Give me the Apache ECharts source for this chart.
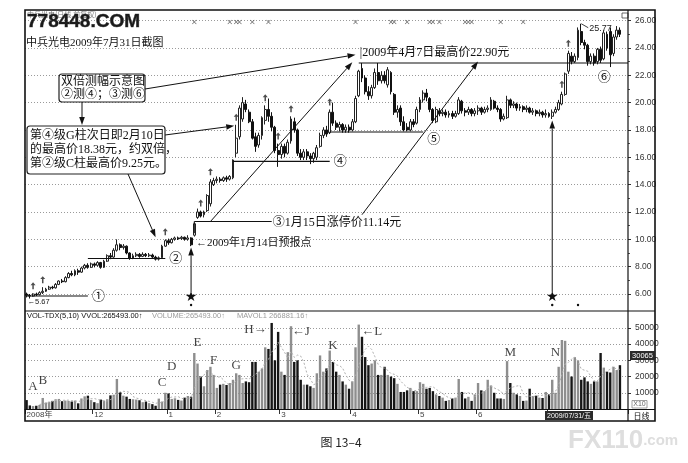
<!DOCTYPE html>
<html><head><meta charset="utf-8">
<script src="https://cdn.jsdelivr.net/npm/echarts/dist/echarts.min.js"></script>
<style>html,body{margin:0;padding:0;background:#fff}#c{width:688px;height:463px}</style>
</head><body><div id="c"></div>
<script>
// ---------------- data ----------------
const monthLabels = ['2008年','12','1','2','3','4','5','6','7'];
const monthDays   = [21,23,15,20,22,21,18,22,23];

const opens = [6.0,5.9,5.85,6.0,5.95,6.1,6.2,6.35,6.5,6.45,
6.7,6.95,6.9,7.2,7.5,7.4,7.7,7.6,7.9,8.1,
7.95,8.2,8.1,8.3,7.95,8.4,8.8,8.7,9.2,9.6,
9.4,9.5,9.0,8.6,8.8,8.9,8.75,8.9,8.8,8.85,
8.7,8.55,8.65,9.5,9.9,9.75,10.0,10.1,10.05,10.15,
10.0,10.1,10.3,11.6,12.0,11.8,12.1,12.6,14.0,14.3,
14.4,14.3,14.5,14.4,14.5,16.3,17.5,18.8,19.9,19.3,
18.6,17.5,16.9,17.6,18.7,19.5,19.0,18.2,16.5,16.2,
16.8,16.3,17.2,18.6,18.0,16.3,16.0,16.4,16.1,15.9,
16.0,16.8,17.6,18.0,17.8,19.3,18.5,18.2,18.4,18.0,
18.2,18.0,18.6,20.5,22.5,21.8,20.8,20.5,21.1,22.2,
21.6,22.0,21.3,22.2,20.6,19.3,19.6,18.6,18.2,18.0,
18.6,18.5,19.5,20.2,20.7,20.3,19.5,18.6,19.4,19.2,
19.3,19.1,19.2,19.0,19.2,20.1,19.4,19.3,19.5,19.2,
19.4,19.6,19.3,19.5,19.5,20.1,19.6,19.5,18.8,18.9,
20.2,19.8,19.9,19.6,19.7,19.5,19.6,19.3,19.4,19.2,
19.3,19.1,19.2,19.0,19.3,19.5,19.9,20.6,22.3,23.4,
23.0,23.3,25.2,24.4,24.2,23.0,23.4,23.0,23.9,23.2,
25.0,25.2,23.6,24.8,25.3];
const closes = [5.9,5.85,6.0,5.95,6.1,6.2,6.35,6.5,6.45,6.7,
6.95,6.9,7.2,7.5,7.4,7.7,7.6,7.9,8.1,7.95,
8.2,8.1,8.3,7.95,8.4,8.8,8.7,9.2,9.6,9.4,
9.5,9.0,8.6,8.8,8.9,8.75,8.9,8.8,8.85,8.7,
8.55,8.65,9.5,9.9,9.75,10.0,10.1,10.05,10.15,10.0,
10.1,9.6,11.14,12.0,11.7,12.0,13.2,14.2,14.3,14.4,
14.3,14.5,14.4,14.6,15.8,17.4,19.6,20.0,19.5,18.6,
17.4,16.8,17.6,18.9,19.5,19.0,18.2,16.5,16.2,16.8,
16.3,17.1,18.8,18.0,16.3,16.0,16.4,16.1,15.9,16.3,
16.7,17.6,18.0,17.7,19.3,18.5,18.2,18.4,18.0,18.2,
18.0,18.6,20.3,22.3,21.8,20.8,20.5,21.1,22.2,21.6,
22.0,21.6,22.4,20.8,19.3,19.5,18.6,18.0,18.0,18.6,
18.4,19.5,20.2,20.7,20.4,19.5,18.7,19.5,19.2,19.3,
19.1,19.2,19.0,19.2,20.2,19.4,19.3,19.5,19.2,19.4,
19.6,19.3,19.5,19.6,20.2,19.6,19.5,18.8,19.0,20.2,
19.8,19.9,19.6,19.7,19.5,19.6,19.3,19.4,19.2,19.3,
19.1,19.2,19.0,19.3,19.5,20.0,20.6,22.1,23.6,23.0,
23.4,25.3,24.4,24.2,23.0,23.4,22.9,23.9,23.1,25.1,
24.0,23.5,24.8,25.3,25.0];
const lows = [5.75,5.67,5.8,5.85,5.9,6.0,6.15,6.3,6.35,6.4,
6.65,6.8,6.85,7.15,7.3,7.3,7.4,7.55,7.8,7.85,
7.9,7.95,8.0,7.85,7.9,8.35,8.55,8.65,9.1,9.2,
9.25,8.9,8.5,8.55,8.7,8.65,8.7,8.7,8.7,8.6,
8.45,8.45,8.6,9.45,9.6,9.7,9.9,9.95,9.95,9.9,
9.9,9.5,10.2,11.5,11.6,11.6,12.0,12.4,13.9,14.1,
14.15,14.2,14.2,14.3,14.4,16.0,17.3,18.6,19.3,18.5,
17.3,16.4,16.7,17.3,18.4,18.6,17.9,16.3,15.3,15.9,
16.0,16.2,17.0,17.8,16.1,15.8,15.8,15.8,15.5,15.6,
15.8,16.7,17.4,17.5,17.7,18.3,18.0,17.9,17.8,17.8,
17.8,17.9,18.5,20.4,21.5,20.6,20.2,20.3,21.0,21.3,
21.4,21.4,21.1,20.6,19.1,18.9,18.3,17.9,17.9,17.9,
18.2,18.4,19.3,20.0,20.1,19.3,18.5,18.5,19.0,19.0,
18.9,18.9,18.8,18.9,19.1,19.2,19.0,19.1,19.0,19.0,
19.1,19.1,19.2,19.3,19.4,19.5,19.3,18.6,18.7,18.8,
19.6,19.6,19.4,19.4,19.3,19.3,19.2,19.1,19.0,19.0,
18.9,18.9,18.9,18.8,19.2,19.4,19.8,20.5,22.1,22.8,
22.9,23.1,24.2,23.9,22.7,22.8,22.7,22.8,22.9,23.1,
23.8,22.6,23.4,24.6,24.8];
const highs = [6.1,6.0,6.05,6.1,6.2,6.5,6.45,6.6,6.6,6.8,
7.0,7.1,7.3,7.6,7.7,7.8,7.85,8.0,8.2,8.25,
8.3,8.3,8.4,8.35,8.5,8.9,9.0,9.35,10.0,9.7,
9.65,9.55,9.05,8.95,9.05,9.0,9.05,9.0,9.0,8.95,
8.8,8.75,9.6,10.0,10.05,10.1,10.2,10.2,10.25,10.2,
10.3,10.15,11.2,12.25,12.1,12.1,13.3,14.4,14.5,14.6,
14.55,14.6,14.65,14.7,15.85,18.38,19.8,20.4,20.2,19.5,
18.8,17.8,17.8,19.0,19.8,20.3,19.3,18.3,17.0,17.0,
17.0,17.3,19.0,18.9,18.1,16.6,16.6,16.6,16.3,16.4,
16.9,17.8,18.2,18.3,19.5,20.0,18.7,18.6,18.5,18.4,
18.4,18.8,20.5,22.4,22.9,22.0,21.2,21.3,22.5,22.9,
22.3,22.3,22.6,22.3,20.7,19.8,19.8,19.0,18.5,18.8,
18.8,19.7,20.4,20.9,21.0,20.4,19.6,19.7,19.6,19.5,
19.5,19.4,19.4,19.4,20.4,20.2,19.6,19.7,19.6,19.6,
19.8,19.7,19.7,19.8,20.4,20.2,19.8,19.6,19.2,20.5,
20.3,20.1,20.0,19.9,19.8,19.8,19.7,19.6,19.5,19.5,
19.4,19.5,19.3,19.5,19.7,20.2,20.8,22.2,23.8,23.7,
23.6,25.5,25.77,24.6,24.3,23.6,23.6,24.0,24.1,25.3,
25.2,25.5,25.0,25.6,25.5];
const volumes = [5500,2200,1800,2000,2500,6800,4000,4500,5000,6000,
6200,4800,5200,5000,4600,5200,3500,6500,7800,8200,
5500,4200,3600,5800,5200,6000,8400,8800,18500,10500,
8200,7600,6200,6000,5800,5400,4200,4600,3600,3000,
2000,6400,4600,10000,9600,6200,6600,5600,5200,7000,
8000,7600,34500,28000,20000,14000,24000,26000,21000,13000,
15000,15500,14800,16000,18000,22000,21000,16000,17000,16500,
29000,29000,23000,25000,38000,37000,53000,30000,47500,23000,
21000,35000,51000,29000,30000,18000,15000,15000,14000,13000,
22000,33000,23000,25000,36000,29000,23000,21000,17000,15000,
12500,17000,38000,52000,44500,32000,27000,28000,30000,21000,
21000,26000,21000,20000,19000,15500,10500,10500,11500,13000,
11000,11000,16500,15500,12500,13000,11000,9000,8000,7000,
5000,5500,6500,7000,18500,10500,6500,7500,5000,9000,
16000,11500,11000,18000,14500,10000,6500,6500,6200,29500,
16000,10000,9000,8000,5000,5200,12500,8000,8200,7000,
6800,10500,9000,18000,10000,26000,42500,42000,23000,20000,
32000,30000,18000,19500,17000,15500,17000,17000,34500,25500,
23000,22500,26000,24000,27000];

const priceTicks = [6, 26, 2];           // min, max, step of price axis
const volTicks   = [0, 60000, 10000];    // min, max, step of volume axis
const arrowMarkIdx = [2,5,43,54,57,65,74,78,82,94,166,168];
const infoMarkIdx  = [52,63,65,66,70,75,102,113,114,118,125,126,128,136,137,138,147,154];
const letterText = ['A','B','C','D','E','F','G','H→','←J','K','←L','M','N'];
const letterIdx  = [2,5,42,45,53,58,65,71,85,95,107,150,164];
const letterVol  = [13600,17300,16000,26000,40700,29600,26500,48800,47500,38900,47500,34600,34600];
// level lines: [label, fromIdx, toIdx, price]
const levelLabels = ['①','②','③','④','⑤'];
const levelFrom   = [0,19,52,64,94];
const levelTo     = [19,43,76,94,123];
const levelPrice  = [5.85,8.6,11.3,15.7,17.85];
const topPrice = 22.90, topIdx = 103;
const forecastIdx = [51, 163];

// ---------------- build ----------------
const categories = [];
monthLabels.forEach((m, k) => { for (let d = 0; d < monthDays[k]; d++) categories.push(m + '#' + d); });
categories.push('pad1', 'pad2');
const isMonthStart = (idx, val) => typeof val === 'string' && /#0$/.test(val);

const ohlc = opens.map((o, i) => [o, closes[i], lows[i], highs[i]]);
const volData = volumes.map((v, i) => ({value: v, itemStyle: {color: closes[i] >= opens[i] ? '#8e8e8e' : '#161616'}}));
const ma5 = volumes.map((v, i) => {
  if (i < 4) return '-';
  let s = 0; for (let k = i - 4; k <= i; k++) s += volumes[k];
  return Math.round(s / 5);
});

const sans = 'Liberation Sans';
const chart = echarts.init(document.getElementById('c'), null, {renderer: 'canvas'});
const option = {
  animation: false,
  backgroundColor: '#fff',
  grid: [
    {left: 25, right: 60, top: 20.6, height: 273.4},
    {left: 25, right: 60, top: 311.6, height: 97.4}
  ],
  xAxis: [
    {type: 'category', gridIndex: 0, data: categories, boundaryGap: true,
     axisLine: {show: false}, axisTick: {show: false}, axisLabel: {show: false}, splitLine: {show: false}},
    {type: 'category', gridIndex: 1, data: categories, boundaryGap: true,
     axisLine: {show: true, lineStyle: {color: '#111', width: 1.2}},
     axisTick: {show: true, interval: isMonthStart, length: 5, lineStyle: {color: '#333'}},
     axisLabel: {show: true, interval: isMonthStart, formatter: v => v.split('#')[0], align: 'left',
       margin: 2, fontSize: 8, color: '#444', fontFamily: sans + ', "Noto Sans CJK SC"'}}
  ],
  yAxis: [
    {type: 'value', gridIndex: 0, position: 'right', min: priceTicks[0], max: priceTicks[1], interval: priceTicks[2],
     axisLine: {show: false},
     axisTick: {show: true, length: 3, lineStyle: {color: '#333'}},
     minorTick: {show: true, splitNumber: 2, length: 2, lineStyle: {color: '#555'}},
     axisLabel: {formatter: v => v.toFixed(2), fontSize: 8.5, color: '#333', margin: 7, fontFamily: sans},
     splitLine: {show: true, lineStyle: {color: '#9a9a9a', type: [1, 2], width: 1}}},
    {type: 'value', gridIndex: 1, position: 'right', min: volTicks[0], max: volTicks[1], interval: volTicks[2],
     axisLine: {show: false},
     axisTick: {show: true, length: 3, lineStyle: {color: '#333'}},
     axisLabel: {showMinLabel: false, showMaxLabel: false, formatter: v => String(v), fontSize: 8.5, color: '#333', margin: 7, fontFamily: sans},
     splitLine: {show: true, showMinLine: false, showMaxLine: false, lineStyle: {color: '#9a9a9a', type: [1, 2], width: 1}}}
  ],
  series: [
    {type: 'candlestick', xAxisIndex: 0, yAxisIndex: 0, data: ohlc, barWidth: 2.4, clip: false,
     itemStyle: {color: '#ffffff', color0: '#111', borderColor: '#222', borderColor0: '#111', borderWidth: 1}},
    {type: 'scatter', xAxisIndex: 0, yAxisIndex: 0, clip: false,
     data: arrowMarkIdx.map(i => [i, highs[i] + 0.55]),
     symbol: 'path://M5,0 L10,5 L6.5,5 L6.5,12 L3.5,12 L3.5,5 L0,5 Z', symbolSize: [5, 7],
     itemStyle: {color: '#222'}},
    {type: 'scatter', xAxisIndex: 0, yAxisIndex: 0, clip: false,
     data: infoMarkIdx.map(i => [i, 25.9]),
     symbol: 'path://M0,1 L1,0 L5,4 L9,0 L10,1 L6,5 L10,9 L9,10 L5,6 L1,10 L0,9 L4,5 Z', symbolSize: 4.5,
     itemStyle: {color: '#444'}},
    {type: 'bar', xAxisIndex: 1, yAxisIndex: 1, data: volData, barWidth: 2.4},
    {type: 'line', xAxisIndex: 1, yAxisIndex: 1, data: ma5, symbol: 'none', smooth: false,
     lineStyle: {color: '#b0b0b0', type: [2, 2], width: 1}},
    {type: 'scatter', xAxisIndex: 1, yAxisIndex: 1, clip: false,
     data: letterText.map((t, k) => ({name: t, value: [letterIdx[k], letterVol[k]]})),
     symbolSize: 1, itemStyle: {color: 'rgba(0,0,0,0)'},
     label: {show: true, position: 'inside', formatter: '{b}', fontSize: 13, color: '#111',
       fontFamily: '"Liberation Serif", "DejaVu Serif", serif'}}
  ]
};
chart.setOption(option);

// ---------------- annotations ----------------
const P = (i, v, gi) => chart.convertToPixel({gridIndex: gi || 0}, [i, v]);
const g = [];
const serif = '"Liberation Serif","Noto Sans CJK SC",serif';
function txt(x, y, text, font, opt) {
  g.push({type: 'text', z: 100, x: x, y: y,
    style: Object.assign({text: text, font: font, fill: '#111', textAlign: 'left', textVerticalAlign: 'middle',
      align: 'left', verticalAlign: 'middle'}, opt || {})});
}
function ln(x1, y1, x2, y2, w, c) {
  g.push({type: 'line', z: 100, shape: {x1, y1, x2, y2}, style: {stroke: c || '#111', lineWidth: w || 1}});
}
function rect(x, y, w, h, style, r) {
  g.push({type: 'rect', z: 99, shape: {x, y, width: w, height: h, r: r || 0}, style: style});
}
function arrow(x1, y1, x2, y2, lw) {
  const a = Math.atan2(y2 - y1, x2 - x1), L = 8, W = 2.8;
  const bx = x2 - L * Math.cos(a), by = y2 - L * Math.sin(a);
  ln(x1, y1, bx, by, lw || 1);
  g.push({type: 'polygon', z: 100, shape: {points: [[x2, y2],
    [bx - W * Math.sin(a), by + W * Math.cos(a)], [bx + W * Math.sin(a), by - W * Math.cos(a)]]},
    style: {fill: '#111'}});
}

// frame
rect(25, 10, 630, 411, {fill: 'none', stroke: '#111', lineWidth: 1.6});
ln(628, 10, 628, 421, 1.2);
ln(25, 311, 655, 311, 1.2);
ln(25, 409.5, 655, 409.5, 1.2);
rect(622, 13, 6, 5, {fill: 'none', stroke: '#444', lineWidth: 0.8});

// top-left texts
txt(27, 14, '中兵光电(日线,前复权)', '7px "Noto Sans CJK SC"', {fill: '#777'});
txt(27, 22, '778448.COM', 'bold 19px "Liberation Sans"', {fill: '#1a1a1a', stroke: '#555', lineWidth: 0.6});
txt(26, 43, '中兵光电2009年7月31日截图', '11px ' + serif);

// level lines
levelLabels.forEach((lab, k) => {
  const a = P(levelFrom[k], levelPrice[k]), b = P(levelTo[k], levelPrice[k]);
  ln(a[0], a[1], b[0], b[1], 1.1);
  if (k === 2) {
    const v = P(levelFrom[k], lows[levelFrom[k]] + 0.25);
    ln(a[0], a[1], a[0], v[1], 1.1);
    txt(b[0] + 1, b[1] + 1, '③1月15日涨停价11.14元', '12px ' + serif);
  } else if (k === 4) {
    txt(b[0] + 4, b[1] + 6, lab, '13px "Noto Sans CJK SC"');
  } else {
    txt(b[0] + 4, b[1] - 1, lab, '13px "Noto Sans CJK SC"');
  }
});
// 22.90 line
const t0 = P(topIdx, topPrice);
ln(t0[0], t0[1], 628, t0[1], 1.1);
txt(t0[0] + 1, t0[1] - 10, '|2009年4月7日最高价22.90元', '12px ' + serif);
const l6 = P(179, topPrice);
txt(l6[0] - 6, l6[1] + 13, '⑥', '13px "Noto Sans CJK SC"');

// low label & high label
const lo = P(0, 5.42);
txt(lo[0] + 1, lo[1], '←5.67', '7.5px "Liberation Sans"', {fill: '#222'});
const hi = P(172, 25.77);
ln(hi[0], hi[1], hi[0] + 7, hi[1] + 4, 0.8);
txt(hi[0] + 8, hi[1] + 5, '25.77', '9px "Liberation Sans"', {fill: '#222'});

// boxes
rect(59, 74, 86, 28, {fill: '#fff', stroke: '#222', lineWidth: 1.2}, 3);
txt(61, 82, '双倍测幅示意图', '12px ' + serif);
txt(61, 95, '②测④；③测⑥', '12px ' + serif);
rect(27, 126, 138, 48, {fill: '#fff', stroke: '#222', lineWidth: 1.2}, 3);
txt(30, 136, '第④级G柱次日即2月10日', '12px ' + serif);
txt(30, 150, '的最高价18.38元，约双倍，', '12px ' + serif);
txt(30, 164, '第②级C柱最高价9.25元。', '12px ' + serif);

// arrows
const a1 = P(102, 23.5);            arrow(145, 89, a1[0], a1[1]);
const a2s = P(57, 11.3), a2e = P(101, 22.95); arrow(a2s[0], a2s[1], a2e[0], a2e[1]);
const a3s = P(104, 11.8), a3e = P(140, 23.0); arrow(a3s[0], a3s[1], a3e[0], a3e[1]);
const a4 = P(40, 10.15);            arrow(128, 174, a4[0], a4[1]);
const a5 = P(65, 18.3);             arrow(165, 135, a5[0] - 2, a5[1]);
arrow(82, 102, 82, 125);

// forecast stars
forecastIdx.forEach(i => {
  const s = P(i, 5.72), tip = P(i, lows[i] - 0.1), d = P(i, 5.2);
  arrow(s[0], s[1] - 6, tip[0], tip[1]);
  txt(s[0], s[1], '★', '14px "DejaVu Sans"', {textAlign: 'center', align: 'center'});
  g.push({type: 'circle', z: 100, shape: {cx: d[0], cy: d[1], r: 1.2}, style: {fill: '#111'}});
});
const d2 = P(171, 5.2);
g.push({type: 'circle', z: 100, shape: {cx: d2[0], cy: d2[1], r: 1.2}, style: {fill: '#111'}});
const fp = P(forecastIdx[0], 9.72);
txt(fp[0] + 5, fp[1], '←2009年1月14日预报点', '11px ' + serif);

// volume header
txt(27, 316, 'VOL-TDX(5,10) VVOL:265493.00↑', '7.5px "Liberation Sans"', {fill: '#111'});
txt(152, 316, 'VOLUME:265493.00↑', '7.5px "Liberation Sans"', {fill: '#9a9a9a'});
txt(237, 316, 'MAVOL1 266881.16↑', '7.5px "Liberation Sans"', {fill: '#9a9a9a'});

// right side boxes
rect(630, 351, 25, 9, {fill: '#2a2a2a'});
txt(642.5, 355.5, '30065', '7.5px "Liberation Sans"', {fill: '#fff', textAlign: 'center', align: 'center'});
rect(632, 400.5, 15, 7.5, {fill: '#fff', stroke: '#888', lineWidth: 0.8});
txt(639.5, 404.3, 'X10', '7px "Liberation Sans"', {fill: '#666', textAlign: 'center', align: 'center'});
txt(641.5, 415.5, '日线', '8px "Noto Sans CJK SC"', {textAlign: 'center', align: 'center'});
rect(545, 411, 48, 9, {fill: '#2a2a2a'});
txt(569, 415.6, '2009/07/31/五', '7px "Liberation Sans","Noto Sans CJK SC"', {fill: '#fff', textAlign: 'center', align: 'center'});

// caption & watermark
txt(341, 442, '图 13–4', '12px "Noto Sans CJK SC"', {fill: '#222', textAlign: 'center', align: 'center'});
g.push({type: 'text', z: 1, x: 568, y: 441, style: {text: '{a|FX110}{b|.com}', textVerticalAlign: 'middle', verticalAlign: 'middle',
  rich: {a: {font: 'bold 26px "Liberation Sans"', fill: '#dedede', color: '#dedede'}, b: {font: 'bold 15px "Liberation Sans"', fill: '#dedede', color: '#dedede'}}}});

chart.setOption({graphic: {elements: g}});
</script>
</body></html>
